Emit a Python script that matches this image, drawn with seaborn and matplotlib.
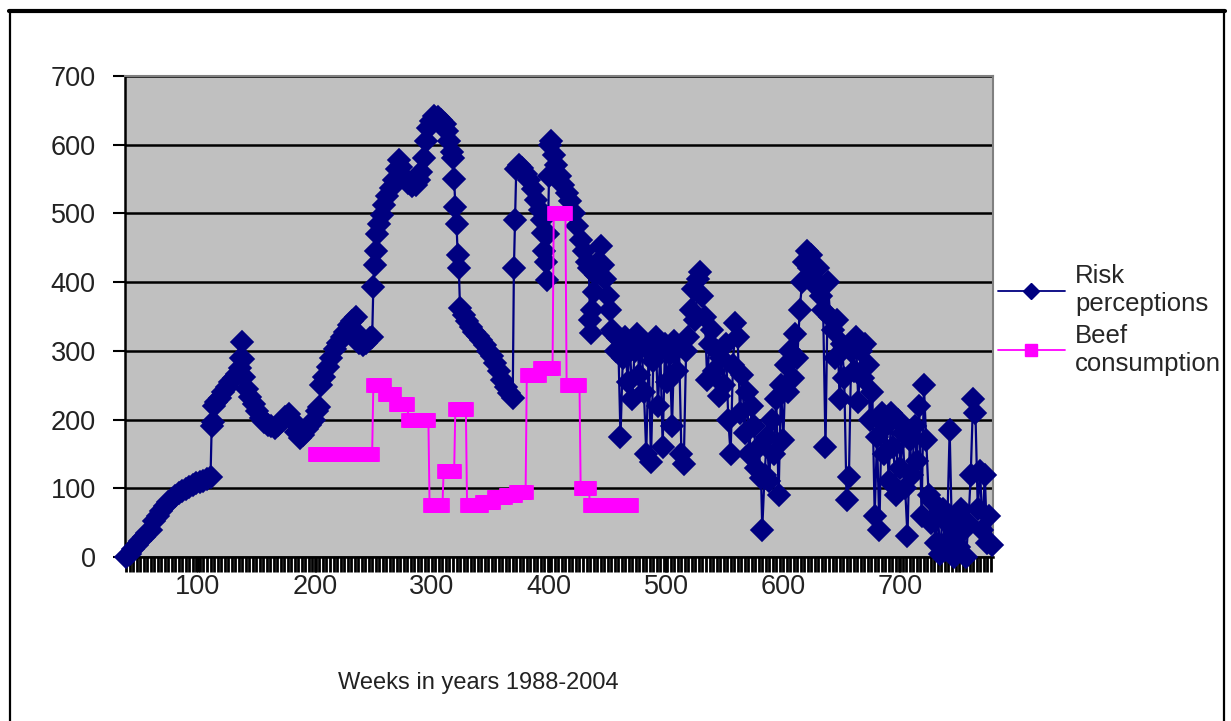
import numpy as np
import matplotlib
matplotlib.use("Agg")
import matplotlib.pyplot as plt
from matplotlib.lines import Line2D
import seaborn as sns

# Risk perceptions (week, value)
early_weeks = [39, 42, 45, 48, 51, 54, 57, 60, 63, 66, 69, 72, 75, 78, 81, 84, 87, 90, 93, 96,
               99, 102, 105, 108, 111,
               112, 113, 114, 116, 119, 122, 125, 128, 131, 134, 136, 137, 138, 139, 140, 142,
               145, 148, 151, 154, 157, 160, 163, 166, 169, 172, 175, 178, 181, 184, 187, 190,
               193, 196, 199, 202, 204,
               205, 208, 211, 214, 217, 220, 223, 226, 229, 232, 235, 237, 238, 241, 244, 247, 249]
early_values = [0, 5, 11, 17, 23, 29, 35, 40, 52, 60, 67, 74, 80, 85, 89, 93, 96, 99, 102, 105,
                107, 109, 111, 113, 116,
                190, 197, 220, 226, 232, 240, 247, 254, 260, 266, 275, 290, 313, 288, 262, 245,
                233, 222, 212, 203, 196, 192, 190, 188, 192, 198, 204, 208, 198, 182, 173, 178,
                186, 192, 200, 212, 218,
                250, 262, 276, 290, 302, 312, 320, 328, 337, 343, 350, 325, 312, 308, 312, 318, 320]

peak_weeks = [250, 251, 252, 253, 255, 257, 259, 262, 265, 268,
              270, 272, 274, 277, 280, 283, 286, 289, 291, 293,
              295, 297, 299, 302, 305, 308, 311, 313, 315, 317,
              318, 319, 320, 321, 322, 323, 324, 327, 330, 333,
              336, 339, 342, 345, 348, 351, 354, 357, 360, 363,
              366, 369, 370, 371, 372, 374, 377, 380, 383, 386,
              389, 392, 394, 395, 396, 397, 398, 399, 400, 401,
              402, 404, 406, 409, 412, 415, 418, 421, 424, 427,
              430, 432, 434, 435, 436, 437, 438, 440, 442, 444,
              446, 448, 450, 452, 454]
peak_values = [393, 425, 445, 470, 485, 498, 512, 525, 537, 548,
               565, 578, 568, 552, 545, 540, 542, 548, 560, 580,
               605, 625, 635, 642, 640, 636, 630, 620, 605, 590,
               580, 550, 510, 485, 440, 420, 362, 352, 343, 335,
               328, 322, 316, 308, 300, 292, 282, 270, 258, 248,
               238, 232, 420, 490, 565, 570, 566, 558, 548, 535,
               520, 505, 490, 472, 445, 430, 403, 470, 555, 600,
               605, 585, 570, 555, 542, 530, 518, 500, 482, 462,
               445, 430, 420, 345, 326, 360, 385, 410, 430, 452,
               425, 405, 380, 360, 330]

late_weeks = [455, 457, 459, 461, 463, 465, 467, 469, 471, 473,
              475, 477, 479, 481, 483, 485, 487, 489, 491, 493,
              495, 497, 499, 501, 503, 505, 507, 509, 511, 513,
              515, 517, 519, 521, 523, 525, 527, 529, 531, 533,
              535, 537, 539, 541, 543, 545, 547, 549, 551, 553,
              555, 557, 559, 561, 563, 565, 567, 569, 571, 573,
              575, 577, 579, 581, 582, 584, 586, 588, 590, 592,
              594, 596, 598, 600, 602, 604, 606, 608, 610, 612,
              614, 616, 618, 620, 622, 624, 626, 628, 630, 632,
              634, 636, 638, 640, 642, 644, 646, 648, 650, 652,
              654, 656, 658, 660, 662, 664, 666, 668, 670, 672,
              674, 676, 678, 680, 682, 684, 686, 688, 690, 692,
              694, 696, 698, 700, 702, 704, 706, 708, 710, 712,
              714, 716, 718, 720, 722, 724, 726, 728, 730, 732,
              734, 736, 738, 740, 742, 744, 746, 748, 750, 752,
              754, 756, 758, 760, 762, 764, 766, 768, 770, 772,
              774, 776, 778]
late_values = [326, 300, 318, 175, 290, 320, 255, 310, 230, 300,
               325, 265, 310, 240, 150, 300, 138, 285, 320, 220,
               300, 160, 310, 255, 295, 190, 315, 270, 305, 150,
               135, 300, 320, 360, 390, 345, 405, 415, 380, 350,
               258, 310, 330, 270, 300, 235, 290, 250, 310, 200,
               150, 280, 340, 320, 210, 265, 180, 240, 150, 220,
               190, 130, 160, 115, 40, 120, 175, 110, 200, 150,
               230, 90, 250, 170, 280, 240, 300, 260, 325, 290,
               360, 400, 430, 445, 420, 440, 405, 395, 420, 380,
               360, 160, 400, 350, 330, 290, 345, 230, 310, 260,
               83, 116, 300, 270, 320, 225, 300, 260, 310, 280,
               200, 240, 60, 175, 40, 210, 150, 190, 110, 210,
               160, 90, 200, 130, 180, 100, 30, 170, 120, 190,
               140, 220, 60, 250, 170, 90, 50, 80, 20, 60,
               5, 70, 10, 50, 185, 30, 0, 60, 15, 70,
               40, 0, 50, 120, 230, 210, 70, 125, 40, 120,
               20, 60, 18]

# Beef consumption: flat weekly levels (first week, last week, level)
beef_start = [200, 250, 260, 269, 280, 298, 310, 320, 330, 343, 353, 363, 372, 381, 392, 404, 415, 427, 435]
beef_end = [249, 259, 268, 279, 297, 309, 319, 329, 342, 352, 362, 371, 380, 391, 403, 414, 426, 434, 470]
beef_level = [150, 250, 237, 222, 200, 75, 125, 215, 75, 80, 88, 90, 95, 265, 275, 500, 250, 100, 75]

y_ticks = [0, 100, 200, 300, 400, 500, 600, 700]
x_ticks = [100, 200, 300, 400, 500, 600, 700]
legend_labels = ["Risk\nperceptions", "Beef\nconsumption"]
x_label = "Weeks in years 1988-2004"

risk_week = early_weeks + peak_weeks + late_weeks
risk_value = early_values + peak_values + late_values
beef_week = np.concatenate([np.arange(s, e + 1) for s, e in zip(beef_start, beef_end)])
beef_value = np.repeat(beef_level, [e - s + 1 for s, e in zip(beef_start, beef_end)])

NAVY = "#000080"
PINK = "#ff00ff"

sns.set_style("white", {"axes.facecolor": "#c0c0c0"})
plt.rcParams["font.family"] = ["Liberation Sans", "DejaVu Sans"]

W, H = 1231, 721
fig = plt.figure(figsize=(W / 100, H / 100), dpi=100)
ax = fig.add_axes([125 / W, 1 - 557 / H, (993 - 125) / W, (557 - 76) / H])

sns.lineplot(x=risk_week, y=risk_value, ax=ax, color=NAVY, marker="D", markersize=11,
             markeredgecolor=NAVY, markeredgewidth=1.2, linewidth=1.6,
             sort=False, estimator=None, clip_on=False, zorder=3)
sns.lineplot(x=beef_week, y=beef_value, ax=ax, color=PINK, marker="s", markersize=10.5,
             markeredgecolor=PINK, markeredgewidth=0.5, linewidth=1.4,
             sort=False, estimator=None, clip_on=False, zorder=4)

ax.set_xlim(38, 779)
ax.set_ylim(0, 700)
ax.set_yticks(y_ticks)
ax.set_xticks(x_ticks)
ax.set_xticks(np.arange(39, 779, 3), minor=True)
ax.set_xlabel("")
ax.set_ylabel("")

ax.yaxis.grid(True, color="black", linewidth=1.8)
ax.set_axisbelow(True)

for side in ["left", "bottom"]:
    ax.spines[side].set_color("black")
    ax.spines[side].set_linewidth(1.8)
for side in ["top", "right"]:
    ax.spines[side].set_color("#808080")
    ax.spines[side].set_linewidth(1.5)

ax.tick_params(axis="y", which="major", direction="out", length=9, width=1.5,
               color="black", pad=12, labelsize=19.5, labelcolor="#222222", left=True)
ax.tick_params(axis="x", which="both", direction="out", length=11, width=2.0,
               color="black", pad=1, labelsize=19.5, labelcolor="#222222", bottom=True)

handles = [
    Line2D([], [], color=NAVY, marker="D", markersize=8, linewidth=1.3),
    Line2D([], [], color=PINK, marker="s", markersize=9, linewidth=1.3),
]
fig.legend(handles, legend_labels, loc="center left", bbox_to_anchor=(998 / W, 1 - 320 / H),
           frameon=False, fontsize=18.5, handlelength=2.6, handletextpad=0.4,
           labelspacing=0.3, borderpad=0, borderaxespad=0)

fig.text(478 / W, 1 - 683 / H, x_label, ha="center", va="center", fontsize=17, color="#222222")

# outer frame of the original picture (no bottom edge visible)
fig.add_artist(Line2D([9 / W, 1225 / W], [1 - 11 / H, 1 - 11 / H], transform=fig.transFigure,
                      color="black", linewidth=3))
fig.add_artist(Line2D([10 / W, 10 / W], [0, 1 - 11 / H], transform=fig.transFigure,
                      color="black", linewidth=1.6))
fig.add_artist(Line2D([1224 / W, 1224 / W], [0, 1 - 11 / H], transform=fig.transFigure,
                      color="black", linewidth=1.6))

fig.savefig("out.png", dpi=100)
